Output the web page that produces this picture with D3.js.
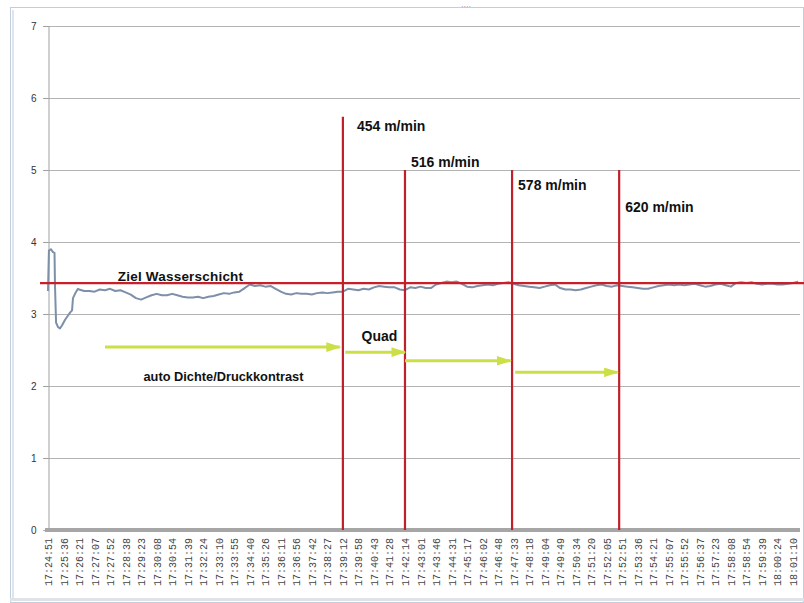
<!DOCTYPE html>
<html><head><meta charset="utf-8">
<script src="https://cdn.jsdelivr.net/npm/d3@7"></script>
<style>html,body{margin:0;padding:0;background:#fff;}svg{display:block;}</style>
</head><body>
<script>
// ---------- data ----------
const timeLabels = ["17:24:51","17:25:36","17:26:21","17:27:07","17:27:52","17:28:38","17:29:23","17:30:08","17:30:54","17:31:39","17:32:24","17:33:10","17:33:55","17:34:40","17:35:26","17:36:11","17:36:56","17:37:42","17:38:27","17:39:12","17:39:58","17:40:43","17:41:28","17:42:14","17:43:01","17:43:46","17:44:31","17:45:17","17:46:02","17:46:48","17:47:33","17:48:18","17:49:04","17:49:49","17:50:34","17:51:20","17:52:05","17:52:51","17:53:36","17:54:21","17:55:07","17:55:52","17:56:37","17:57:23","17:58:08","17:58:54","17:59:39","18:00:24","18:01:10"];
const yTicks = [0,1,2,3,4,5,6,7];
// start-up phase (position in label intervals, value)
const startPos  = [0.00,0.06,0.19,0.32,0.42,0.45,0.52,0.64,0.77,0.90,1.10,1.29,1.42,1.55,1.61,1.74,1.93];
const startVals = [3.32,3.88,3.90,3.86,3.85,3.40,2.88,2.82,2.80,2.84,2.92,2.98,3.02,3.05,3.22,3.28,3.35];
// regular samples after start-up, every 1/3 label interval from position 2
const regularStart = 2, sampleStep = 1/3;
const depthValues = [3.34,3.32,3.32,3.31,3.34,3.33,3.35,3.32,3.33,3.30,3.27,3.22,3.20,3.23,3.26,3.28,3.26,3.26,3.28,3.26,
3.24,3.23,3.23,3.24,3.22,3.24,3.25,3.27,3.29,3.28,3.30,3.31,3.36,3.41,3.39,3.40,3.38,3.39,3.35,3.31,
3.28,3.27,3.29,3.28,3.28,3.27,3.29,3.30,3.29,3.30,3.31,3.31,3.35,3.34,3.33,3.35,3.34,3.37,3.39,3.38,
3.37,3.37,3.34,3.33,3.37,3.36,3.38,3.36,3.36,3.41,3.43,3.45,3.44,3.45,3.42,3.38,3.37,3.39,3.40,3.41,
3.40,3.42,3.43,3.44,3.42,3.40,3.39,3.38,3.37,3.36,3.38,3.40,3.41,3.36,3.34,3.34,3.33,3.34,3.36,3.38,
3.40,3.41,3.39,3.38,3.40,3.39,3.38,3.37,3.36,3.35,3.35,3.37,3.39,3.40,3.41,3.40,3.41,3.40,3.41,3.42,
3.40,3.38,3.39,3.41,3.42,3.40,3.38,3.43,3.44,3.43,3.44,3.42,3.41,3.42,3.42,3.41,3.41,3.42,3.43,3.45];
const targetLevel = 3.43;
const targetLabel = "Ziel Wasserschicht";
const speedLabels = ["454 m/min","516 m/min","578 m/min","620 m/min"];
const speedPos    = [19.0, 23.0, 29.9, 36.8];
const speedTop    = [5.74, 5.0, 5.0, 5.0];
const speedLabelY = [5.61, 5.11, 4.79, 4.49];
const arrowFrom = [3.67, 19.15, 23.0, 30.1];
const arrowTo   = [18.8, 23.0, 29.8, 36.7];
const arrowY    = [2.54, 2.47, 2.35, 2.19];
const modeLabels = [{text:"auto Dichte/Druckkontrast", pos:6.15, y:2.12, size:12.8},{text:"Quad", pos:20.2, y:2.68, size:14}];

// ---------- layout ----------
const W=804,H=603;
const plotL=48, plotR=800, plotT=26, plotB=530;
const svg=d3.select("body").append("svg").attr("width",W).attr("height",H);

// frame
svg.append("rect").attr("x",10.5).attr("y",7.5).attr("width",W-11).attr("height",H-8)
  .attr("fill","#fff").attr("stroke","#c3cedb").attr("stroke-width",1);
svg.append("line").attr("x1",13).attr("x2",13).attr("y1",10).attr("y2",H-2).attr("stroke","#dce6f2").attr("stroke-width",2);
svg.append("line").attr("x1",10).attr("x2",W).attr("y1",599.5).attr("y2",599.5).attr("stroke","#dfe3e8").attr("stroke-width",3);
svg.append("text").attr("x",466).attr("y",10).attr("text-anchor","middle").attr("font-size",8).attr("fill","#9aa8b8").attr("font-family","DejaVu Sans").text("····");

const x=d3.scaleLinear().domain([0,timeLabels.length-1]).range([48,793]);
const y=d3.scaleLinear().domain([0,7]).range([plotB,plotT]);

// gridlines
svg.append("g").selectAll("line").data(yTicks.filter(d=>d>0)).join("line")
  .attr("x1",plotL-5).attr("x2",plotR).attr("y1",d=>y(d)+0.5).attr("y2",d=>y(d)+0.5)
  .attr("stroke","#b4b4b4").attr("stroke-width",1);
// y axis
const yAxis=d3.axisLeft(y).tickValues(yTicks).tickSize(5).tickPadding(7).tickFormat(d3.format("d"));
const gy=svg.append("g").attr("transform",`translate(${plotL+0.5},0)`).call(yAxis);
gy.select(".domain").attr("stroke","#a0a0a0");
gy.selectAll(".tick line").attr("stroke","#a0a0a0");
gy.selectAll("text").attr("font-family","Liberation Sans, Arial").attr("font-size",10).attr("fill","#333");

// bottom axis band
svg.append("rect").attr("x",plotL-3).attr("y",plotB-2).attr("width",plotR-plotL+3).attr("height",4).attr("fill","#a6a6a6");
// x labels
svg.append("g").selectAll("text").data(timeLabels).join("text")
  .attr("transform",(d,i)=>`translate(${x(i)+4},538) rotate(-90)`)
  .attr("text-anchor","end").attr("font-family","Liberation Mono, DejaVu Sans Mono, monospace").attr("font-size",10)
  .attr("fill","#444").text(d=>d);

// series
const pts = startPos.map((p,i)=>[p,startVals[i]])
  .concat(depthValues.map((v,k)=>[regularStart+k*sampleStep,v]));
svg.append("path").datum(pts)
  .attr("d",d3.line().x(d=>x(d[0])).y(d=>y(d[1])))
  .attr("fill","none").attr("stroke","#7d8fa9").attr("stroke-width",2).attr("stroke-linejoin","round");

// target line
svg.append("line").attr("x1",40).attr("x2",plotR+4).attr("y1",y(targetLevel)).attr("y2",y(targetLevel))
  .attr("stroke","#c8202a").attr("stroke-width",2.2);
svg.append("text").attr("x",x(4.5)).attr("y",y(targetLevel)-2).attr("font-family","Liberation Sans, Arial")
  .attr("font-size",13.5).attr("fill","#111").attr("font-weight","bold").attr("letter-spacing","0.2").text(targetLabel);

// speed lines
svg.append("g").selectAll("line").data(speedPos).join("line")
  .attr("x1",d=>x(d)).attr("x2",d=>x(d)).attr("y1",(d,i)=>y(speedTop[i])).attr("y2",plotB)
  .attr("stroke","#c0202a").attr("stroke-width",2.2);
svg.append("g").selectAll("text").data(speedLabels).join("text")
  .attr("x",(d,i)=>x(speedPos[i])+(i===0?14:6)).attr("y",(d,i)=>y(speedLabelY[i])+5)
  .attr("font-family","Liberation Sans, Arial").attr("font-weight","bold").attr("font-size",14).attr("fill","#111")
  .text(d=>d);

// arrows
const defs=svg.append("defs");
defs.append("marker").attr("id","ah").attr("viewBox","0 0 10 10").attr("refX",9).attr("refY",5)
  .attr("markerWidth",5).attr("markerHeight",3.2).attr("markerUnits","strokeWidth").attr("orient","auto")
  .attr("preserveAspectRatio","none")
  .append("path").attr("d","M0,0 L10,5 L0,10 Z").attr("fill","#cddf47");
svg.append("g").selectAll("line").data(arrowFrom).join("line")
  .attr("x1",d=>x(d)).attr("x2",(d,i)=>x(arrowTo[i])).attr("y1",(d,i)=>y(arrowY[i])).attr("y2",(d,i)=>y(arrowY[i]))
  .attr("stroke","#cddf47").attr("stroke-width",3).attr("marker-end","url(#ah)");

// mode labels
svg.append("g").selectAll("text").data(modeLabels).join("text")
  .attr("x",d=>x(d.pos)).attr("y",d=>y(d.y)+4)
  .attr("font-family","Liberation Sans, Arial").attr("font-weight","bold")
  .attr("font-size",d=>d.size).attr("fill","#111").text(d=>d.text);
</script>
</body></html>
